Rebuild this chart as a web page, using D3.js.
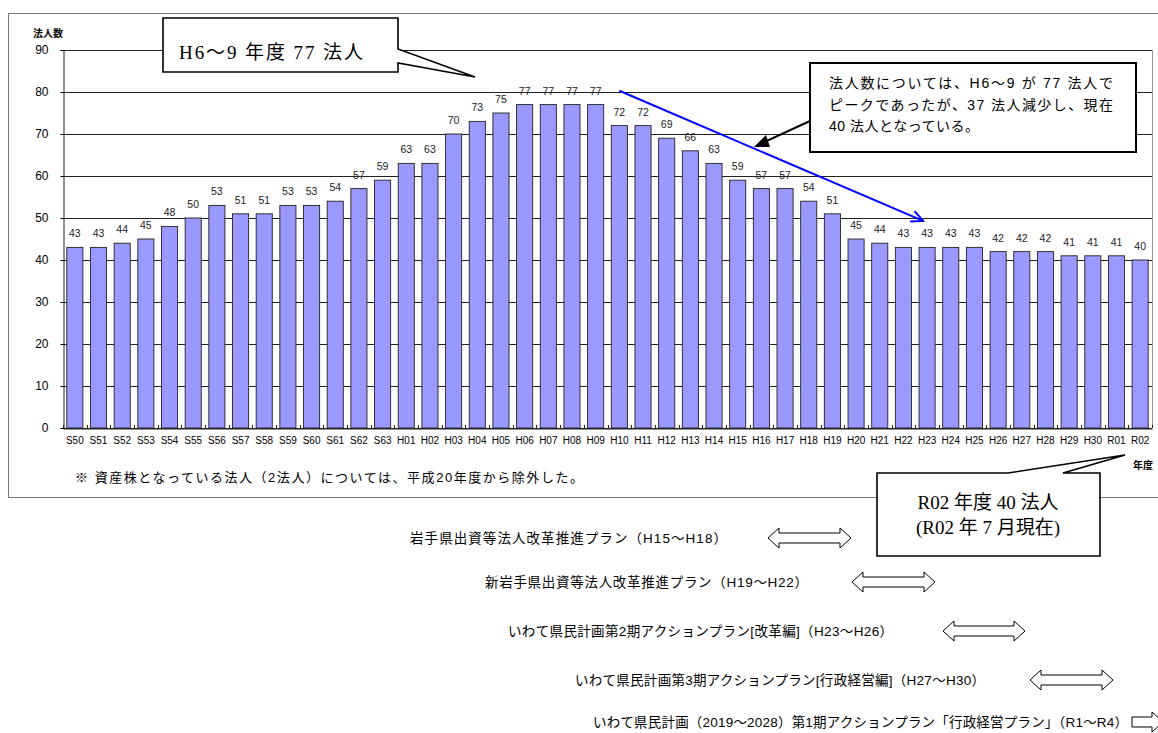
<!DOCTYPE html>
<html lang="ja">
<head>
  <meta charset="UTF-8">
  <title>法人数の推移</title>
  <style>
    body { margin: 0; background: #fff; }
    text { font-family: "Liberation Sans", "Noto Sans CJK JP", sans-serif; }
    .serif { font-family: "Liberation Serif", "Noto Sans CJK JP", serif; }
  </style>
</head>
<body>
  <script src="https://d3js.org/d3.v7.min.js"></script>
  <script>
    // data
    const years = [
      'S50', 'S51', 'S52', 'S53', 'S54', 'S55', 'S56', 'S57', 'S58', 'S59', 'S60', 'S61', 'S62', 'S63',
      'H01', 'H02', 'H03', 'H04', 'H05', 'H06', 'H07', 'H08', 'H09', 'H10',
      'H11', 'H12', 'H13', 'H14', 'H15', 'H16', 'H17', 'H18', 'H19', 'H20',
      'H21', 'H22', 'H23', 'H24', 'H25', 'H26', 'H27', 'H28', 'H29', 'H30',
      'R01', 'R02'
    ]
    const corpCount = [
      43, 43, 44, 45, 48, 50, 53, 51, 51, 53, 53, 54, 57, 59,
      63, 63, 70, 73, 75, 77, 77, 77, 77, 72,
      72, 69, 66, 63, 59, 57, 57, 54, 51, 45,
      44, 43, 43, 43, 43, 42, 42, 42, 41, 41,
      41, 40
    ]
    const yTicks = [0, 10, 20, 30, 40, 50, 60, 70, 80, 90]
    const planNames = [
      '岩手県出資等法人改革推進プラン（H15～H18）',
      '新岩手県出資等法人改革推進プラン（H19～H22）',
      'いわて県民計画第2期アクションプラン[改革編]（H23～H26）',
      'いわて県民計画第3期アクションプラン[行政経営編]（H27～H30）',
      'いわて県民計画（2019～2028）第1期アクションプラン「行政経営プラン」（R1～R4）'
    ]
    const trendFrom = ['H10', 80.3]
    const trendTo = ['H23', 49.3]

    const width = 1158
    const height = 733
    const plot = { left: 63, right: 1152, top: 50, bottom: 428 }

    const svg = d3.select('body')
      .append('svg')
      .attr('width', width)
      .attr('height', height)

    svg.append('rect')
      .attr('width', width)
      .attr('height', height)
      .attr('fill', '#fff')

    // outer chart frame
    svg.append('rect')
      .attr('x', 8.5)
      .attr('y', 13.5)
      .attr('width', 1160)
      .attr('height', 484)
      .attr('fill', 'none')
      .attr('stroke', '#777')
      .attr('stroke-width', 1)

    const x = d3.scaleBand()
      .domain(years)
      .range([plot.left, plot.right])
      .paddingInner(0.32)
      .paddingOuter(0.16)

    const y = d3.scaleLinear()
      .domain([0, 90])
      .range([plot.bottom, plot.top])

    // gridlines
    svg.append('g')
      .selectAll('line')
      .data(yTicks)
      .enter()
      .append('line')
      .attr('x1', plot.left)
      .attr('x2', plot.right)
      .attr('y1', d => Math.round(y(d)) + 0.5)
      .attr('y2', d => Math.round(y(d)) + 0.5)
      .attr('stroke', '#222')
      .attr('stroke-width', 1)

    svg.append('line')
      .attr('x1', plot.right + 0.5)
      .attr('x2', plot.right + 0.5)
      .attr('y1', plot.top)
      .attr('y2', plot.bottom)
      .attr('stroke', '#999')

    // bars
    svg.append('g')
      .selectAll('rect')
      .data(years)
      .enter()
      .append('rect')
      .attr('x', d => x(d))
      .attr('y', (d, i) => y(corpCount[i]))
      .attr('width', x.bandwidth())
      .attr('height', (d, i) => y(0) - y(corpCount[i]))
      .attr('fill', '#9999ff')
      .attr('stroke', '#222')
      .attr('stroke-width', 0.9)

    // value labels
    svg.append('g')
      .selectAll('text')
      .data(years)
      .enter()
      .append('text')
      .attr('x', d => x(d) + x.bandwidth() / 2)
      .attr('y', (d, i) => y(corpCount[i]) - 10)
      .attr('text-anchor', 'middle')
      .attr('font-size', 10.5)
      .attr('fill', '#222')
      .text((d, i) => corpCount[i])

    // y axis
    const yAxis = d3.axisLeft(y)
      .tickValues(yTicks)
      .tickSize(3)
      .tickPadding(12)
    const gy = svg.append('g')
      .attr('transform', `translate(${plot.left + 0.5},0)`)
      .call(yAxis)
    gy.select('.domain').attr('stroke', '#222')
    gy.selectAll('text').attr('font-size', 12).attr('fill', '#000').style('font-family', '"Liberation Sans", sans-serif')

    // x axis
    const xAxis = d3.axisBottom(x)
      .tickSize(0)
      .tickPadding(8)
    const gx = svg.append('g')
      .attr('transform', `translate(0,${plot.bottom + 0.5})`)
      .call(xAxis)
    gx.select('.domain').attr('stroke', '#222')
    gx.selectAll('text').attr('font-size', 10).attr('fill', '#000').style('font-family', '"Liberation Sans", sans-serif')

    // small ticks between categories
    svg.append('g')
      .selectAll('line')
      .data(d3.range(years.length + 1))
      .enter()
      .append('line')
      .attr('x1', i => Math.round(plot.left + i * x.step()) + 0.5)
      .attr('x2', i => Math.round(plot.left + i * x.step()) + 0.5)
      .attr('y1', plot.bottom)
      .attr('y2', plot.bottom - 3)
      .attr('stroke', '#222')

    svg.append('text')
      .attr('x', 33)
      .attr('y', 37)
      .attr('font-size', 10)
      .attr('font-weight', 'bold')
      .text('法人数')

    svg.append('text')
      .attr('x', 1133)
      .attr('y', 469)
      .attr('font-size', 10)
      .attr('font-weight', 'bold')
      .text('年度')

    svg.append('text')
      .attr('x', 75)
      .attr('y', 482)
      .attr('font-size', 13)
      .attr('textLength', 508)
      .attr('lengthAdjust', 'spacing')
      .text('※ 資産株となっている法人（2法人）については、平成20年度から除外した。')

    // trend arrow (blue)
    const tx1 = x(trendFrom[0]) + x.bandwidth() / 2
    const ty1 = y(trendFrom[1])
    const tx2 = x(trendTo[0]) + x.bandwidth() / 2 - 4
    const ty2 = y(trendTo[1])
    svg.append('line')
      .attr('x1', tx1).attr('y1', ty1)
      .attr('x2', tx2).attr('y2', ty2)
      .attr('stroke', '#0000ff')
      .attr('stroke-width', 2)
    const ang = Math.atan2(ty2 - ty1, tx2 - tx1)
    const headLen = 13
    const headPts = [ang - 0.45, ang + 0.45].map(a => [tx2 - headLen * Math.cos(a), ty2 - headLen * Math.sin(a)])
    svg.append('path')
      .attr('d', `M${headPts[0][0]},${headPts[0][1]}L${tx2},${ty2}L${headPts[1][0]},${headPts[1][1]}`)
      .attr('fill', 'none')
      .attr('stroke', '#0000ff')
      .attr('stroke-width', 2)

    // callout: H6-9
    svg.append('path')
      .attr('d', 'M163,18 L398,18 L398,49 L475,77 L398,63 L398,72 L163,72 Z')
      .attr('fill', '#fff')
      .attr('stroke', '#000')
      .attr('stroke-width', 1.6)
      .attr('stroke-linejoin', 'miter')
    svg.append('text')
      .attr('class', 'serif')
      .attr('x', 179)
      .attr('y', 59)
      .attr('font-size', 19)
      .attr('textLength', 184)
      .attr('lengthAdjust', 'spacing')
      .text('H6～9 年度 77 法人')

    // callout: R02
    svg.append('path')
      .attr('d', 'M877,473 L1008,473 L1125,455 L1063,473 L1100,473 L1100,556 L877,556 Z')
      .attr('fill', '#fff')
      .attr('stroke', '#000')
      .attr('stroke-width', 1.6)
    svg.append('text')
      .attr('class', 'serif')
      .attr('x', 988)
      .attr('y', 509)
      .attr('text-anchor', 'middle')
      .attr('font-size', 19)
      .text('R02 年度 40 法人')
    svg.append('text')
      .attr('class', 'serif')
      .attr('x', 988)
      .attr('y', 534)
      .attr('text-anchor', 'middle')
      .attr('font-size', 19)
      .text('(R02 年 7 月現在)')

    // comment box with black arrow
    svg.append('line')
      .attr('x1', 810).attr('y1', 121)
      .attr('x2', 762).attr('y2', 143)
      .attr('stroke', '#000')
      .attr('stroke-width', 2)
    svg.append('path')
      .attr('d', 'M754,147 L766,135 L770,147 Z')
      .attr('fill', '#000')
    svg.append('rect')
      .attr('x', 810)
      .attr('y', 63)
      .attr('width', 326)
      .attr('height', 89)
      .attr('fill', '#fff')
      .attr('stroke', '#000')
      .attr('stroke-width', 2)
    const noteLines = [
      '法人数については、H6～9 が 77 法人で',
      'ピークであったが、37 法人減少し、現在',
      '40 法人となっている。'
    ]
    const noteLen = [284, 284, 150]
    svg.append('g')
      .selectAll('text')
      .data(noteLines)
      .enter()
      .append('text')
      .attr('x', 829)
      .attr('y', (d, i) => 88 + i * 21.5)
      .attr('font-size', 14)
      .attr('textLength', (d, i) => noteLen[i])
      .attr('lengthAdjust', 'spacing')
      .text(d => d)

    // plan periods
    const planLayout = [
      { y: 538, textEnd: 727, textLen: 317, a0: 768, a1: 851 },
      { y: 582, textEnd: 808, textLen: 323, a0: 852, a1: 935 },
      { y: 631, textEnd: 893, textLen: 385, a0: 943, a1: 1025 },
      { y: 680, textEnd: 985, textLen: 410, a0: 1030, a1: 1113 },
      { y: 722, textEnd: 1128, textLen: 535, a0: 1132, a1: 1175 }
    ]
    planNames.forEach((name, i) => {
      const L = planLayout[i]
      svg.append('text')
        .attr('x', L.textEnd - L.textLen)
        .attr('y', L.y + 5)
        .attr('font-size', 13.5)
        .attr('textLength', L.textLen)
        .attr('lengthAdjust', 'spacing')
        .text(name)
      const c = L.y
      let d
      if (i < planNames.length - 1) {
        d = `M${L.a0},${c} L${L.a0 + 11},${c - 10} L${L.a0 + 11},${c - 5} L${L.a1 - 11},${c - 5} L${L.a1 - 11},${c - 10} L${L.a1},${c} ` +
          `L${L.a1 - 11},${c + 10} L${L.a1 - 11},${c + 5} L${L.a0 + 11},${c + 5} L${L.a0 + 11},${c + 10} Z`
      } else {
        d = `M${L.a0},${c - 5} L${L.a0 + 20},${c - 5} L${L.a0 + 20},${c - 10} L${L.a0 + 31},${c} L${L.a0 + 20},${c + 10} L${L.a0 + 20},${c + 5} L${L.a0},${c + 5} Z`
      }
      svg.append('path')
        .attr('d', d)
        .attr('fill', '#fff')
        .attr('stroke', '#000')
        .attr('stroke-width', 1)
    })
  </script>
</body>
</html>
